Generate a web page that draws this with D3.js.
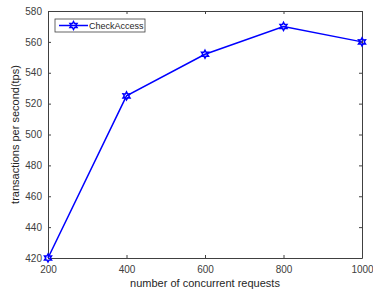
<!DOCTYPE html>
<html>
<head>
<meta charset="utf-8">
<script src="https://cdn.jsdelivr.net/npm/d3@7"></script>
<style>
body { margin: 0; background: #fff; }
text { font-family: "Liberation Sans", Arial, sans-serif; }
</style>
</head>
<body>
<script>
// data
var requests = [200, 400, 600, 800, 1000];
var tps = [420, 525, 552, 570, 560];
var xTicks = [200, 400, 600, 800, 1000];
var yTicks = [420, 440, 460, 480, 500, 520, 540, 560, 580];
var seriesName = "CheckAccess";

var W = 373, H = 292;
var margin = {top: 11, right: 11, bottom: 34, left: 48},
    width = W - margin.left - margin.right,
    height = H - margin.top - margin.bottom;

var x = d3.scaleLinear().domain([200, 1000]).range([0, width]);
var y = d3.scaleLinear().domain([420, 580]).range([height, 0]);

var svg = d3.select("body").append("svg")
    .attr("width", W)
    .attr("height", H)
  .append("g")
    .attr("transform", "translate(" + margin.left + "," + margin.top + ")");

var axisColor = "#404040";
var fmt = d3.format("d");

// box like matlab, ticks inside on all four sides
function styleAxis(g, labels) {
  g.select(".domain").attr("stroke", axisColor).attr("stroke-width", 1);
  g.selectAll(".tick line").attr("stroke", axisColor);
  g.selectAll(".tick text")
    .attr("fill", "#404040")
    .style("font-size", "10px")
    .style("font-family", "'Liberation Sans', Arial, sans-serif");
  if (!labels) g.selectAll(".tick text").remove();
}

svg.append("g")
    .attr("transform", "translate(0," + height + ")")
    .call(d3.axisBottom(x).tickValues(xTicks).tickFormat(fmt).tickSizeInner(-3).tickSizeOuter(0).tickPadding(8))
    .call(styleAxis, true);

svg.append("g")
    .call(d3.axisTop(x).tickValues(xTicks).tickSizeInner(-3).tickSizeOuter(0))
    .call(styleAxis, false);

svg.append("g")
    .call(d3.axisLeft(y).tickValues(yTicks).tickFormat(fmt).tickSizeInner(-3).tickSizeOuter(0).tickPadding(6))
    .call(styleAxis, true);

svg.append("g")
    .attr("transform", "translate(" + width + ",0)")
    .call(d3.axisRight(y).tickValues(yTicks).tickSizeInner(-3).tickSizeOuter(0))
    .call(styleAxis, false);

// axis titles
svg.append("text")
    .attr("x", width / 2)
    .attr("y", height + 29)
    .attr("text-anchor", "middle")
    .attr("fill", "#262626")
    .style("font-size", "11px")
    .text("number of concurrent requests");

svg.append("text")
    .attr("transform", "translate(" + (-29) + "," + (height / 2) + ") rotate(-90)")
    .attr("text-anchor", "middle")
    .attr("fill", "#262626")
    .style("font-size", "11px")
    .text("transactions per second(tps)");

// six point star marker
function hexagram(r) {
  var pts = [];
  for (var i = 0; i < 12; i++) {
    var a = -Math.PI / 2 + i * Math.PI / 6;
    var rr = i % 2 === 0 ? r : r * 0.55;
    pts.push([rr * Math.cos(a), rr * Math.sin(a)]);
  }
  return "M" + pts.map(function(p) { return p[0].toFixed(2) + "," + p[1].toFixed(2); }).join("L") + "Z";
}

var data = requests.map(function(d, i) { return {x: d, y: tps[i]}; });

var line = d3.line()
    .x(function(d) { return x(d.x); })
    .y(function(d) { return y(d.y); });

svg.append("path")
    .datum(data)
    .attr("fill", "none")
    .attr("stroke", "#0000ff")
    .attr("stroke-width", 1.5)
    .attr("d", line);

svg.selectAll(".marker")
    .data(data)
  .enter().append("path")
    .attr("class", "marker")
    .attr("transform", function(d) { return "translate(" + x(d.x) + "," + y(d.y) + ")"; })
    .attr("d", hexagram(4))
    .attr("fill", "none")
    .attr("stroke", "#0000ff")
    .attr("stroke-width", 1.5);

// legend
var lg = svg.append("g").attr("transform", "translate(7,8)");
lg.append("rect")
    .attr("width", 90)
    .attr("height", 13)
    .attr("fill", "#fff")
    .attr("stroke", axisColor)
    .attr("stroke-width", 0.8);
lg.append("line")
    .attr("x1", 4).attr("x2", 33)
    .attr("y1", 6.5).attr("y2", 6.5)
    .attr("stroke", "#0000ff")
    .attr("stroke-width", 1.5);
lg.append("path")
    .attr("transform", "translate(18.5,6.5)")
    .attr("d", hexagram(4))
    .attr("fill", "none")
    .attr("stroke", "#0000ff")
    .attr("stroke-width", 1.5);
lg.append("text")
    .attr("x", 34)
    .attr("y", 10)
    .attr("fill", "#262626")
    .style("font-size", "9px")
    .text(seriesName);
</script>
</body>
</html>
